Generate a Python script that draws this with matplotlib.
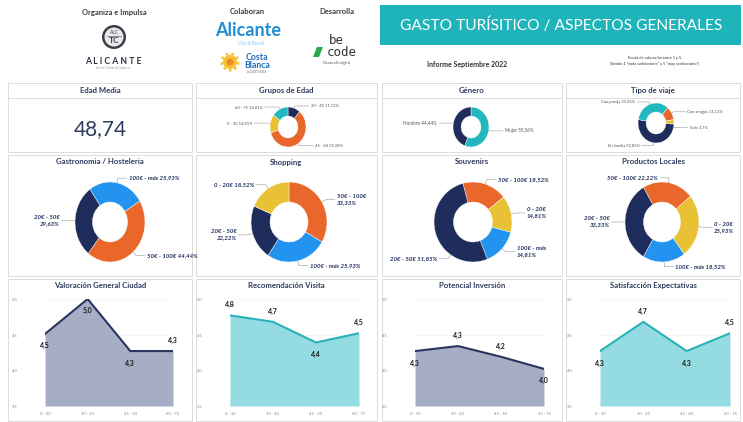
import numpy as np
import matplotlib.pyplot as plt
from matplotlib.patches import Rectangle, Circle, Wedge, Polygon

plt.rcParams['font.family'] = ['Lato', 'DejaVu Sans']

W, H = 743, 422

# colores
NAVY = '#1f2d5c'
ORANGE = '#e9672b'
YELLOW = '#e8c234'
TEAL = '#22b6bf'
BLUE = '#2293ef'
TXT = '#2e3b5e'

# ---- datos ----
edad_media = 48.74

grupos_cat = ['30 - 45', '45 - 60', '0 - 30', '60 - 75']
grupos_val = [11.11, 59.26, 14.81, 14.81]

genero_cat = ['Mujer', 'Hombre']
genero_val = [55.56, 44.44]

viaje_cat = ['Con amigos', 'Solo', 'En familia', 'Con pareja']
viaje_val = [11.11, 3.7, 51.85, 33.33]

gastro_cat = ['100€ - más', '50€ - 100€', '20€ - 50€']
gastro_val = [25.93, 44.44, 29.63]

shop_cat = ['50€ - 100€', '100€ - más', '20€ - 50€', '0 - 20€']
shop_val = [33.33, 25.93, 22.22, 18.52]

souv_cat = ['50€ - 100€', '0 - 20€', '100€ - más', '20€ - 50€']
souv_val = [18.52, 14.81, 14.81, 51.85]

prod_cat = ['50€ - 100€', '0 - 20€', '100€ - más', '20€ - 50€']
prod_val = [22.22, 25.93, 18.52, 33.33]

rangos = ['0 - 30', '30 - 45', '45 - 60', '60 - 75']
valoracion = [4.51, 5.0, 4.27, 4.27]
recomendacion = [4.77, 4.68, 4.39, 4.52]
inversion = [4.27, 4.34, 4.19, 4.02]
satisfaccion = [4.27, 4.68, 4.27, 4.52]

col_gasto = {'0 - 20€': YELLOW, '20€ - 50€': NAVY, '50€ - 100€': ORANGE, '100€ - más': BLUE}
col_grupos = {'30 - 45': NAVY, '45 - 60': ORANGE, '0 - 30': YELLOW, '60 - 75': TEAL}
col_genero = {'Mujer': TEAL, 'Hombre': NAVY}
col_viaje = {'Con amigos': ORANGE, 'Solo': YELLOW, 'En familia': NAVY, 'Con pareja': TEAL}


def pct(v):
    s = ('%.2f' % v).rstrip('0').rstrip('.')
    return s.replace('.', ',') + '%'


fig = plt.figure(figsize=(W / 100, H / 100), dpi=100)
fig.patch.set_facecolor('white')

# capa de fondo en pixeles
bg = fig.add_axes([0, 0, 1, 1])
bg.set_xlim(0, W)
bg.set_ylim(H, 0)
bg.axis('off')


def panel(x0, x1, y0, y1, title, ty, divider=None):
    bg.add_patch(Rectangle((x0, y0), x1 - x0, y1 - y0, fc='white', ec='#dcdcdc', lw=0.7))
    bg.text((x0 + x1) / 2, ty, title, ha='center', va='center', fontsize=5.6,
            fontweight='bold', color=TXT)
    if divider:
        bg.plot([x0, x1], [divider, divider], color='#dcdcdc', lw=0.7)


cols = [(8, 192), (196, 377), (382, 562), (566, 740)]

# ---- cabecera ----
bg.add_patch(Rectangle((380, 5), 361, 40, fc='#1fb4ba', ec='none'))
bg.text(561, 25, 'GASTO TURÍSITICO / ASPECTOS GENERALES', ha='center', va='center',
        fontsize=11.2, color='white')
bg.text(467, 64, 'Informe Septiembre 2022', ha='center', va='center', fontsize=5,
        fontweight='bold', color='#333333')
bg.text(655, 61, 'Escala de valoración entre 1 y 5.\n(Siendo 1 "nada satisfactorio" y 5 "muy satisfactorio")',
        ha='center', va='center', fontsize=2.8, color='#333333', linespacing=1.6)

bg.text(114, 12, 'Organiza e Impulsa', ha='center', va='center', fontsize=5.5,
        fontweight='bold', color='#3c3c3c')
bg.text(247, 12, 'Colaboran', ha='center', va='center', fontsize=5.5,
        fontweight='bold', color='#3c3c3c')
bg.text(337, 12, 'Desarrolla', ha='center', va='center', fontsize=5.5,
        fontweight='bold', color='#3c3c3c')

# logo ALC TC
bg.add_patch(Circle((114, 37), 12, fc='#3b404b', ec='none'))
bg.add_patch(Circle((114, 37), 9.5, fc='#e9e9ea', ec='none'))
bg.text(114, 32.5, 'ALC', ha='center', va='center', fontsize=3.5, color='#3b404b')
bg.plot([107, 121], [35.5, 35.5], color='#3b404b', lw=0.4)
bg.text(114, 40.5, 'TC', ha='center', va='center', fontsize=6, fontweight='bold', color='#3b404b')
bg.text(113, 61, 'A L I C A N T E', ha='center', va='center', fontsize=6.2,
        fontweight='bold', color='#2a2f3a')
bg.text(113, 68, 'Alicante Turismo de Congresos', ha='center', va='center', fontsize=1.8,
        color='#999999')

# logo Alicante
bg.text(248, 31, 'Alicante', ha='center', va='center', fontsize=13, fontweight='bold',
        color='#1d8fd2')
bg.text(251, 44, 'City & Beach', ha='center', va='center', fontsize=3.3, color='#7fc6ea')
# logo Costa Blanca
bg.add_patch(Circle((230, 62), 7, fc='#f3c230', ec='none'))
for a in range(0, 360, 40):
    bg.add_patch(Wedge((230, 62), 9.5, a, a + 18, width=2.5, fc='#f3c230', ec='none'))
bg.add_patch(Circle((230, 62), 3.5, fc='#f08a24', ec='none'))
bg.text(257, 57.5, 'Costa', ha='center', va='center', fontsize=6.3, fontweight='bold',
        color='#1f6fb8')
bg.text(257, 65.5, 'Blanca', ha='center', va='center', fontsize=6.3, fontweight='bold',
        color='#1f6fb8')
bg.text(257, 72, 'ALICANTE AREA', ha='center', va='center', fontsize=1.8, color='#777777')

# logo be code
bg.text(336, 40, 'be', ha='center', va='center', fontsize=9, family='DejaVu Sans Mono',
        color='#333333')
bg.text(342, 52, 'code', ha='center', va='center', fontsize=9, family='DejaVu Sans Mono',
        color='#333333')
bg.add_patch(Polygon([[313, 57], [317, 47], [323, 47], [319, 57]], fc='#2aa84a', ec='none'))
bg.text(337, 63, 'Desarrollo digital', ha='center', va='center', fontsize=2.6, color='#555555')

# ---- paneles ----
row1 = ['Edad Media', 'Grupos de Edad', 'Género', 'Tipo de viaje']
row2 = ['Gastronomia / Hosteleria', 'Shopping', 'Souvenirs', 'Productos Locales']
row3 = ['Valoración General Ciudad', 'Recomendación Visita', 'Potencial Inversión',
        'Satisfacción Expectativas']
for (x0, x1), t in zip(cols, row1):
    panel(x0, x1, 83, 152, t, 90.5, divider=98)
for (x0, x1), t in zip(cols, row2):
    panel(x0, x1, 155, 276, t, 162)
for (x0, x1), t in zip(cols, row3):
    panel(x0, x1, 279, 421, t, 285.5)

bg.text(100, 129, ('%.2f' % edad_media).replace('.', ','), ha='center', va='center',
        fontsize=15, color=TXT)


def donut(cx, cy, rx, ry, cats, vals, colmap, start, width, fs, big,
          angle_fix=None, side_fix=None, leg=8):
    angle_fix = angle_fix or {}
    side_fix = side_fix or {}
    ax = fig.add_axes([(cx - rx) / W, 1 - (cy + ry) / H, 2 * rx / W, 2 * ry / H])
    wedges, _ = ax.pie(vals, colors=[colmap[c] for c in cats], startangle=start,
                       counterclock=False, radius=1,
                       wedgeprops=dict(width=width, edgecolor='white', linewidth=0.3))
    ax.set_xlim(-1, 1)
    ax.set_ylim(-1, 1)
    ax.set_aspect('auto')
    ax.axis('off')
    for w, c, v in zip(wedges, cats, vals):
        a = angle_fix.get(c, (w.theta1 + w.theta2) / 2)
        ca, sa = np.cos(np.radians(a)), np.sin(np.radians(a))
        side = side_fix.get(c, 1 if ca >= 0 else -1)
        ex, ey = 1.12 * ca, 1.12 * sa
        tx = ex + side * leg / rx
        sep = '\n' if (big and abs(ca) > 0.7) else ' '
        ax.plot([ca, ex, tx], [sa, ey, ey], color='#9a9a9a', lw=0.4, clip_on=False)
        ax.text(tx + side * 2 / rx, ey, c + sep + pct(v), ha='left' if side > 0 else 'right',
                va='center', fontsize=fs, clip_on=False,
                color=NAVY if big else '#555555',
                fontweight='bold' if big else 'normal',
                style='italic' if big else 'normal', linespacing=1.3)


# fila 1
donut(288, 127, 18, 20, grupos_cat, grupos_val, col_grupos, 90, 0.45, 3, False, leg=14)
donut(471, 127, 18, 20, genero_cat, genero_val, col_genero, 90, 0.45, 3.3, False, leg=12)
donut(656, 123, 18, 20, viaje_cat, viaje_val, col_viaje, 50, 0.45, 3, False,
      angle_fix={'Solo': -12}, leg=12)

# fila 2
donut(110, 222, 35, 40, gastro_cat, gastro_val, col_gasto, 125, 0.5, 4.3, True, leg=9)
donut(289, 222, 38, 40, shop_cat, shop_val, col_gasto, 90, 0.5, 4.3, True, leg=9)
donut(473, 222, 39, 40, souv_cat, souv_val, col_gasto, 105, 0.5, 4.3, True,
      angle_fix={'20€ - 50€': -125}, leg=9)
donut(662, 222, 37, 40, prod_cat, prod_val, col_gasto, 120, 0.5, 4.3, True,
      side_fix={'50€ - 100€': -1}, leg=9)


def area(x0, x1, vals, line_col, fill_col, where):
    ax = fig.add_axes([x0 / W, 1 - 406 / H, (x1 - x0) / W, (406 - 299) / H])
    x = np.arange(len(vals))
    ax.fill_between(x, 3.5, vals, color=fill_col, lw=0)
    ax.plot(x, vals, color=line_col, lw=1.5, solid_joinstyle='miter')
    ax.set_xlim(0, len(vals) - 1)
    ax.set_ylim(3.5, 5.0)
    ax.set_yticks([3.5, 4.0, 4.5, 5.0])
    ax.set_yticklabels(['3,5', '4,0', '4,5', '5,0'])
    ax.set_xticks(x)
    ax.set_xticklabels(rangos)
    ax.tick_params(length=0, labelsize=3, labelcolor='#8a8a8a')
    ax.tick_params(axis='y', pad=20)
    ax.tick_params(axis='x', pad=4)
    for s in ax.spines.values():
        s.set_visible(False)
    ax.set_facecolor('none')
    ax.grid(axis='y', color='#f1f1f1', lw=0.5)
    ax.set_axisbelow(True)
    for xi, v, w in zip(x, vals, where):
        off = 5 if w == 'up' else -6
        ax.annotate(('%.1f' % v).replace('.', ','), (xi, v), xytext=(0, off),
                    textcoords='offset points', ha='center',
                    va='bottom' if w == 'up' else 'top', fontsize=5,
                    fontweight='bold', color='#1a1a1a', annotation_clip=False)


area(45, 173, valoracion, '#2b3461', '#a5aec4', ['down', 'down', 'down', 'up'])
area(230, 359, recomendacion, '#27b2ba', '#94dbe2', ['up', 'up', 'down', 'up'])
area(415, 544, inversion, '#2b3461', '#a5aec4', ['down', 'up', 'up', 'down'])
area(600, 730, satisfaccion, '#27b2ba', '#94dbe2', ['down', 'up', 'down', 'up'])

fig.savefig('out.png', dpi=100)
